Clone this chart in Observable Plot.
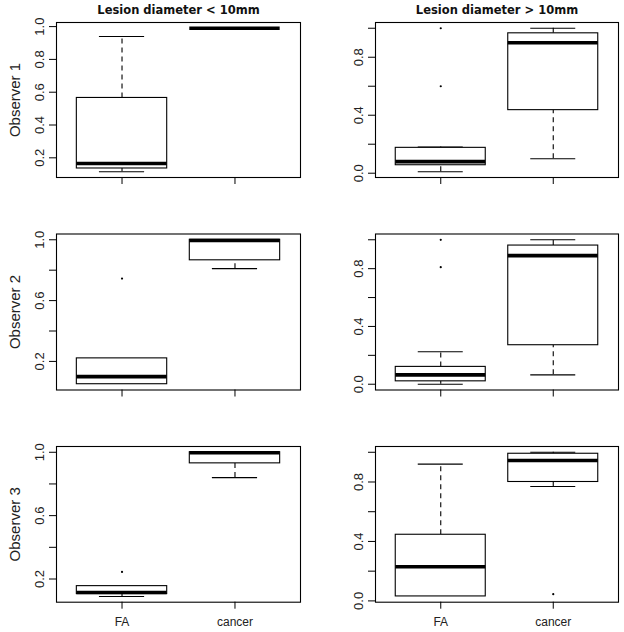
<!DOCTYPE html>
<html><head><meta charset="utf-8">
<script src="https://cdn.jsdelivr.net/npm/d3@7"></script>
<script src="https://cdn.jsdelivr.net/npm/@observablehq/plot@0.6"></script>
<style>
html,body{margin:0;padding:0;background:#fff;}
#chart{position:relative;width:624px;height:632px;background:#fff;overflow:hidden;}
#chart svg{position:absolute;background:transparent;}
</style></head><body><div id="chart"></div>
<script>
const categories = ["FA", "cancer"];
const columnTitles = ["Lesion diameter < 10mm", "Lesion diameter > 10mm"];
const rowLabels = ["Observer 1", "Observer 2", "Observer 3"];

// box statistics: [lower whisker, Q1, median, Q3, upper whisker]
const obs1SmallFA = [0.115, 0.135, 0.165, 0.565, 0.94];
const obs1SmallCancer = [0.99, 0.99, 0.99, 0.99, 0.99];
const obs1LargeFA = [0.01, 0.055, 0.08, 0.175, 0.18];
const obs1LargeCancer = [0.10, 0.435, 0.90, 0.965, 1.0];
const obs2SmallFA = [0.05, 0.05, 0.10, 0.22, 0.22];
const obs2SmallCancer = [0.81, 0.865, 0.995, 1.0, 1.0];
const obs2LargeFA = [0.0, 0.02, 0.065, 0.12, 0.225];
const obs2LargeCancer = [0.065, 0.27, 0.89, 0.96, 1.0];
const obs3SmallFA = [0.09, 0.105, 0.115, 0.155, 0.155];
const obs3SmallCancer = [0.84, 0.93, 0.997, 1.0, 1.0];
const obs3LargeFA = [0.03, 0.03, 0.23, 0.445, 0.92];
const obs3LargeCancer = [0.77, 0.80, 0.945, 0.99, 1.0];

// outliers
const obs1SmallFAOut = [];
const obs1SmallCancerOut = [];
const obs1LargeFAOut = [0.6, 1.0];
const obs1LargeCancerOut = [];
const obs2SmallFAOut = [0.745];
const obs2SmallCancerOut = [];
const obs2LargeFAOut = [0.81, 1.0];
const obs2LargeCancerOut = [];
const obs3SmallFAOut = [0.245];
const obs3SmallCancerOut = [];
const obs3LargeFAOut = [];
const obs3LargeCancerOut = [0.045];

// axis ticks and labels
const smallTicks = [0.2, 0.4, 0.6, 0.8, 1.0];
const largeTicks = [0.0, 0.2, 0.4, 0.6, 0.8, 1.0];
const obs1SmallLabels = [0.2, 0.4, 0.6, 0.8, 1.0];
const sparseSmallLabels = [0.2, 0.6, 1.0];
const largeLabels = [0.0, 0.4, 0.8];

const panels = [
  {row: 0, col: 0, stats: [obs1SmallFA, obs1SmallCancer], outs: [obs1SmallFAOut, obs1SmallCancerOut], ticks: smallTicks, labels: obs1SmallLabels},
  {row: 0, col: 1, stats: [obs1LargeFA, obs1LargeCancer], outs: [obs1LargeFAOut, obs1LargeCancerOut], ticks: largeTicks, labels: largeLabels},
  {row: 1, col: 0, stats: [obs2SmallFA, obs2SmallCancer], outs: [obs2SmallFAOut, obs2SmallCancerOut], ticks: smallTicks, labels: sparseSmallLabels},
  {row: 1, col: 1, stats: [obs2LargeFA, obs2LargeCancer], outs: [obs2LargeFAOut, obs2LargeCancerOut], ticks: largeTicks, labels: largeLabels},
  {row: 2, col: 0, stats: [obs3SmallFA, obs3SmallCancer], outs: [obs3SmallFAOut, obs3SmallCancerOut], ticks: smallTicks, labels: sparseSmallLabels},
  {row: 2, col: 1, stats: [obs3LargeFA, obs3LargeCancer], outs: [obs3LargeFAOut, obs3LargeCancerOut], ticks: largeTicks, labels: largeLabels}
];

// layout geometry
const colGeom = [
  {left: 0, width: 312, marginLeft: 56, marginRight: 12},
  {left: 312, width: 312, marginLeft: 63, marginRight: 6}
];
const rowGeom = [
  {top: 0, height: 210, marginTop: 22, marginBottom: 33},
  {top: 210, height: 210, marginTop: 23.5, marginBottom: 30.5},
  {top: 420, height: 212, marginTop: 26, marginBottom: 30.3}
];

const FONT = "'Liberation Sans', Arial, sans-serif";
const fmt = d3.format(".1f");
const n = categories.length;
const xDomain = [0.5 - 0.04 * n, n + 0.5 + 0.04 * n];
const boxHalf = 0.4, stapleHalf = 0.2;

const chart = document.getElementById("chart");

for (const p of panels) {
  const cg = colGeom[p.col], rg = rowGeom[p.row];
  const boxes = categories.map((c, i) => {
    const s = p.stats[i];
    return {cat: c, pos: i + 1, lo: s[0], q1: s[1], med: s[2], q3: s[3], hi: s[4]};
  });
  const outliers = categories.flatMap((c, i) => p.outs[i].map(v => ({cat: c, pos: i + 1, v})));
  const vals = boxes.flatMap(b => [b.lo, b.hi]).concat(outliers.map(o => o.v));
  const lo = d3.min(vals), hi = d3.max(vals), pad = 0.04 * (hi - lo);

  const marks = [
    // whiskers
    Plot.ruleX(boxes.filter(b => b.hi > b.q3), {x: "pos", y1: "q3", y2: "hi", stroke: "black", strokeWidth: 1.1, strokeDasharray: "5,4"}),
    Plot.ruleX(boxes.filter(b => b.lo < b.q1), {x: "pos", y1: "lo", y2: "q1", stroke: "black", strokeWidth: 1.1, strokeDasharray: "5,4"}),
    // staples
    Plot.ruleY(boxes.filter(b => b.hi > b.q3), {y: "hi", x1: b => b.pos - stapleHalf, x2: b => b.pos + stapleHalf, stroke: "black", strokeWidth: 1.1}),
    Plot.ruleY(boxes.filter(b => b.lo < b.q1), {y: "lo", x1: b => b.pos - stapleHalf, x2: b => b.pos + stapleHalf, stroke: "black", strokeWidth: 1.1}),
    // boxes
    Plot.rect(boxes, {x1: b => b.pos - boxHalf, x2: b => b.pos + boxHalf, y1: "q1", y2: "q3", fill: "white", stroke: "black", strokeWidth: 1.1}),
    // medians
    Plot.ruleY(boxes, {y: "med", x1: b => b.pos - boxHalf, x2: b => b.pos + boxHalf, stroke: "black", strokeWidth: 3.6}),
    // outliers
    Plot.dot(outliers, {x: "pos", y: "v", r: 1.1, fill: "black", stroke: null}),
    Plot.frame({stroke: "black", strokeWidth: 1.1}),
    // y axis ticks and labels
    Plot.axisY({ticks: p.ticks, tickSize: 7, tickFormat: () => "", label: null, stroke: "black"}),
    Plot.axisY({ticks: p.labels, tickSize: 0, tickRotate: -90, tickPadding: 12.5, tickFormat: fmt, label: null, fontSize: 13, fill: "#222"}),
    // x axis ticks
    Plot.axisX({ticks: d3.range(1, n + 1), tickSize: 7, tickPadding: 8.6, label: null, stroke: "black",
      tickFormat: p.row === 2 ? (v => categories[v - 1]) : (() => ""), fontSize: 12, fill: "#222"}),
    // row label
    Plot.text([rowLabels[p.row]].filter(() => p.col === 0), {text: d => d, frameAnchor: "left", textAnchor: "middle", lineAnchor: "middle", rotate: -90, dx: -41, fontSize: 15, fill: "#222", fontFamily: FONT})
  ];
  if (p.row === 0) {
    marks.push(Plot.text([columnTitles[p.col]], {text: d => d, frameAnchor: "top", textAnchor: "middle", lineAnchor: "middle", dy: -12, fontSize: 11.5, fontWeight: "bold", fill: "#111", fontFamily: "'DejaVu Sans', Verdana, sans-serif"}));
  }

  const svg = Plot.plot({
    width: cg.width,
    height: rg.height,
    marginLeft: cg.marginLeft,
    marginRight: cg.marginRight,
    marginTop: rg.marginTop,
    marginBottom: rg.marginBottom,
    style: {fontFamily: FONT, fontSize: "12px", background: "transparent", overflow: "visible"},
    x: {domain: xDomain},
    y: {domain: [lo - pad, hi + pad]},
    marks
  });
  svg.style.left = cg.left + "px";
  svg.style.top = rg.top + "px";
  chart.appendChild(svg);
}
</script>
</body></html>
